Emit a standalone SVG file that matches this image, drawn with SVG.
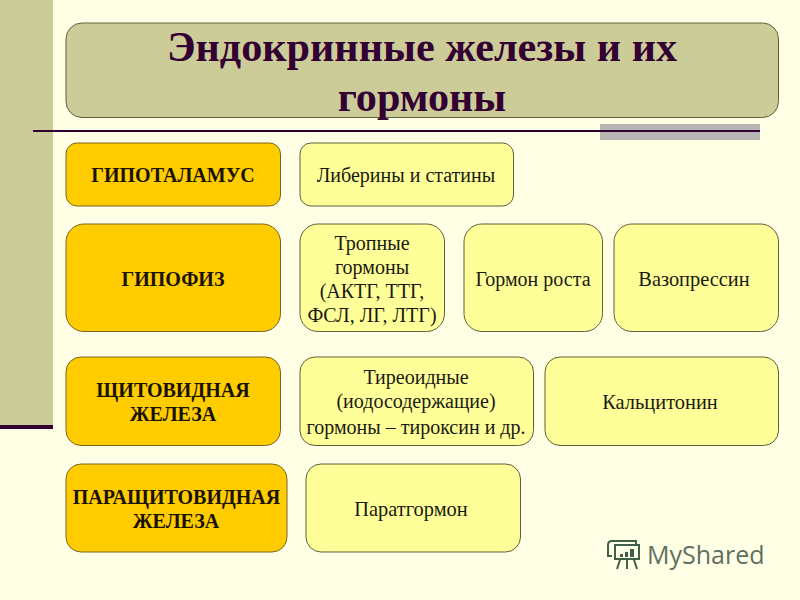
<svg xmlns="http://www.w3.org/2000/svg" width="800" height="600" viewBox="0 0 800 600">
<style>
.n{stroke:#5f5f3a;stroke-width:1}
.o{fill:#ffcc00;stroke:#7a6420}
.y{fill:#ffff99}
text{font-family:"Liberation Serif","Times New Roman",serif;text-anchor:middle;fill:#000}
.b{font-weight:bold;font-size:20px;fill:#1a1200}
.r{font-size:20px;fill:#1a1a10}
.w{font-size:20.400px}
.t{font-weight:bold;font-size:42.2px;fill:#330033}
</style>
<rect width="800" height="600" fill="#ffffe5"/>
<g id="decor">
<rect x="0" y="0" width="53" height="425" fill="#cccc99"/>
<rect x="0" y="425" width="53" height="4" fill="#330033"/>
<rect x="600" y="124" width="160" height="16" fill="#b2b2b2" fill-opacity="0.95"/>
<rect x="33" y="130" width="727" height="2" fill="#330033"/>
</g>
<g id="title"><rect class="n" x="66" y="23" width="712.500" height="94.500" rx="16" fill="#cccc99"/>
<text class="t" x="422" y="61">Эндокринные железы и их</text><text class="t" x="422" y="111">гормоны</text></g>
<g id="gipotalamus"><rect class="n o" x="66" y="143" width="214.500" height="63" rx="11"/><text class="b" x="173" y="182">ГИПОТАЛАМУС</text></g>
<g id="liberiny"><rect class="n y" x="300" y="143" width="213.500" height="63" rx="11"/><text class="r" x="406" y="182">Либерины и статины</text></g>
<g id="gipofiz"><rect class="n o" x="66" y="224" width="214.500" height="107.500" rx="18"/><text class="b" x="173" y="286">ГИПОФИЗ</text></g>
<g id="tropnye"><rect class="n y" x="300" y="224" width="144.500" height="107.500" rx="18"/>
<text class="r" x="372" y="250">Тропные</text><text class="r" x="372" y="274">гормоны</text><text class="r" x="372" y="298">(АКТГ, ТТГ,</text><text class="r" x="372" y="322">ФСЛ, ЛГ, ЛТГ)</text></g>
<g id="rost"><rect class="n y" x="464" y="224" width="138.500" height="107.500" rx="18"/><text class="r" x="533" y="286">Гормон роста</text></g>
<g id="vazopressin"><rect class="n y" x="614" y="224" width="164.500" height="107.500" rx="18"/><text class="r w" x="694" y="286">Вазопрессин</text></g>
<g id="shchitovidnaya"><rect class="n o" x="66" y="357" width="214.500" height="88.500" rx="15"/><text class="b" x="173" y="397">ЩИТОВИДНАЯ</text><text class="b" x="173" y="421">ЖЕЛЕЗА</text></g>
<g id="tireoidnye"><rect class="n y" x="300" y="357" width="233.500" height="88.500" rx="15"/>
<text class="r" x="416" y="384">Тиреоидные</text><text class="r" x="416" y="408">(иодосодержащие)</text><text class="r" x="416" y="434">гормоны – тироксин и др.</text></g>
<g id="kalcitonin"><rect class="n y" x="545" y="357" width="233.500" height="88.500" rx="15"/><text class="r w" x="660" y="409">Кальцитонин</text></g>
<g id="parashchitovidnaya"><rect class="n o" x="66" y="464" width="221" height="88" rx="15"/><text class="b" x="176.500" y="504">ПАРАЩИТОВИДНАЯ</text><text class="b" x="176" y="528">ЖЕЛЕЗА</text></g>
<g id="paratgormon"><rect class="n y" x="306" y="464" width="214.500" height="88" rx="15"/><text class="r w" x="411" y="516">Паратгормон</text></g>
<g id="watermark">
<g fill="none" stroke="#3f5f48" stroke-width="2">
<path d="M612 541h24v4h-4M612 541c-3 0-4 2-4 4v11h4"/>
<rect x="615" y="545" width="24" height="14"/>
<path d="M620 560l-3 9M627 560v9M634 560l3 9"/>
</g>
<g fill="#3f5f48"><rect x="620" y="554" width="3" height="3"/><rect x="625" y="552" width="3" height="5"/><rect x="630" y="549" width="4" height="8"/></g>
<text x="647" y="564" style="font-family:'Open Sans',sans-serif;text-anchor:start;font-size:25px;fill:#5f6f62">MyShared</text>
</g>
</svg>
